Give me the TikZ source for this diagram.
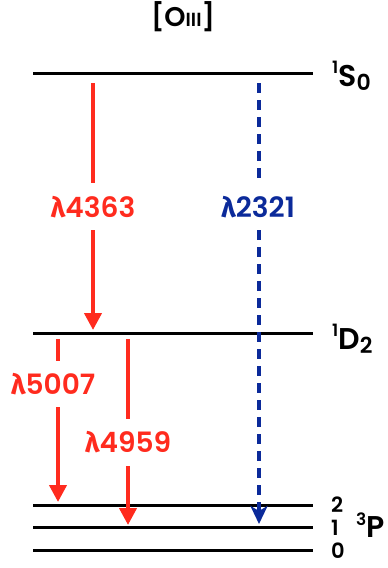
\documentclass[tikz,border=0pt]{standalone}
\usepackage{fontspec}
\setmainfont{Poppins SemiBold}
\newfontfamily\grk{Fira Sans}
\usetikzlibrary{arrows.meta}
\definecolor{emred}{HTML}{FF2B1E}
\definecolor{emblue}{HTML}{0B2A9A}
\tikzset{
  level/.style={line width=3pt, black},
  redline/.style={line width=4pt, emred},
  redtip/.style={-{Triangle[length=17pt,width=17pt]}},
  blueline/.style={line width=4pt, emblue, dash pattern=on 10pt off 7pt},
  bluetip/.style={-{Stealth[length=18pt,width=17pt,inset=5pt]}},
  wl/.style={font=\fontsize{28}{30}\selectfont, inner sep=0pt},
  term/.style={font=\fontsize{30}{32}\selectfont, inner sep=0pt, anchor=west},
  jnum/.style={font=\fontsize{21}{23}\selectfont, inner sep=0pt, anchor=west},
}
\newcommand{\lam}{{\grk\bfseries λ}}
\newcommand{\upnum}[1]{\raisebox{0.42em}{\fontsize{17}{19}\selectfont #1}}
\newcommand{\dnnum}[1]{\raisebox{-0.14em}{\fontsize{22}{24}\selectfont #1}}
\begin{document}
\begin{tikzpicture}[x=1pt,y=-1pt]
\useasboundingbox (0,0) rectangle (388,568);
% title
\node[font=\fontsize{27}{29}\selectfont, inner sep=0pt] (title) at (183,17)
  {[O{\fontsize{19}{21}\selectfont III}]};
% energy levels
\coordinate (s0l) at (33,73);  \coordinate (s0r) at (313,73);
\coordinate (d2l) at (33,333); \coordinate (d2r) at (313,333);
\coordinate (p2l) at (33,505); \coordinate (p2r) at (313,505);
\coordinate (p1l) at (33,527); \coordinate (p1r) at (313,527);
\coordinate (p0l) at (33,550); \coordinate (p0r) at (313,550);
\draw[level] (s0l) -- (s0r);
\draw[level] (d2l) -- (d2r);
\draw[level] (p2l) -- (p2r);
\draw[level] (p1l) -- (p1r);
\draw[level] (p0l) -- (p0r);
% term labels
\node[term] (S0) at (332,76) {\upnum{1}S\dnnum{0}};
\node[term] (D2) at (332,339) {\upnum{1}D\dnnum{2}};
\node[jnum] (j2) at (331,505) {2};
\node[jnum] (j1) at (331,528) {1};
\node[jnum] (j0) at (331,551) {0};
\node[term] (P3) at (356,525) {\upnum{3}P};
% transitions
\coordinate (a1s) at (93,83);   \coordinate (a1e) at (93,330);
\coordinate (a2s) at (58,339);  \coordinate (a2e) at (58,502);
\coordinate (a3s) at (128,339); \coordinate (a3e) at (128,525);
\coordinate (a4s) at (259,83);  \coordinate (a4e) at (259,524);
\node[wl, emred] (l4363) at (93,207) {\lam4363};
\node[wl, emred] (l5007) at (53,384) {\lam5007};
\node[wl, emred] (l4959) at (128,442) {\lam4959};
\node[wl, emblue] (l2321) at (258,207) {\lam2321};
\draw[redline] (a1s) -- ([yshift=13pt]a1s |- l4363.north);
\draw[redline, redtip] ([yshift=-12pt]a1s |- l4363.south) -- (a1e);
\draw[redline] (a2s) -- ([yshift=12pt]a2s |- l5007.north);
\draw[redline, redtip] ([yshift=-12pt]a2s |- l5007.south) -- (a2e);
\draw[redline] (a3s) -- ([yshift=12pt]a3s |- l4959.north);
\draw[redline, redtip] ([yshift=-13pt]a3s |- l4959.south) -- (a3e);
\draw[blueline] (a4s) -- ([yshift=13pt]a4s |- l2321.north);
\draw[blueline, bluetip] ([yshift=-12pt]a4s |- l2321.south) -- (a4e);
\end{tikzpicture}
\end{document}
